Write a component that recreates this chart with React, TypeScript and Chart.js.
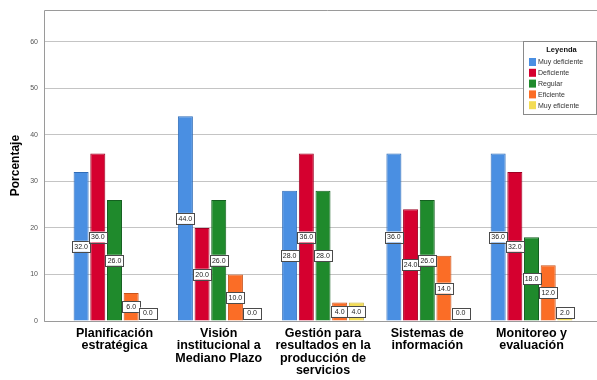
import React, { useEffect, useRef } from "react";
import { Chart, registerables, CategoryScale } from "chart.js";

Chart.register(...registerables);

// Category axis that leaves extra room before the first and after the last category
class PaddedCategoryScale extends CategoryScale {
  static id = "paddedCategory";
  static defaults = CategoryScale.defaults;
  buildTicks() {
    const ticks = super.buildTicks();
    const pad = (this.options as any).edgePad ?? 0;
    (this as any)._startValue -= pad;
    (this as any)._valueRange += 2 * pad;
    return ticks;
  }
}
Chart.register(PaddedCategoryScale as any);

const categories: string[][] = [
  ["Planificación", "estratégica"],
  ["Visión", "institucional a", "Mediano Plazo"],
  ["Gestión para", "resultados en la", "producción de", "servicios"],
  ["Sistemas de", "información"],
  ["Monitoreo y", "evaluación"],
];

const seriesNames = ["Muy deficiente", "Deficiente", "Regular", "Eficiente", "Muy eficiente"];

const muyDeficiente = [32.0, 44.0, 28.0, 36.0, 36.0];
const deficiente = [36.0, 20.0, 36.0, 24.0, 32.0];
const regular = [26.0, 26.0, 28.0, 26.0, 18.0];
const eficiente = [6.0, 10.0, 4.0, 14.0, 12.0];
const muyEficiente = [0.0, 0.0, 4.0, 0.0, 2.0];

const yTicks = [0, 10, 20, 30, 40, 50, 60];

const fillColors = ["#4a8fe2", "#d5002f", "#1f8a2c", "#fb6d26", "#f3dc55"];
const edgeColors = ["#2f6cb8", "#9e0022", "#146020", "#c9531b", "#c9b33a"];

const FONT = "'Liberation Sans', Arial, sans-serif";

// White boxed value labels in the middle of each bar
const valueLabels = {
  id: "valueLabels",
  afterDatasetsDraw(chart: any) {
    const ctx = chart.ctx;
    ctx.save();
    ctx.font = `7px ${FONT}`;
    ctx.textAlign = "center";
    ctx.textBaseline = "middle";
    chart.data.datasets.forEach((ds: any, di: number) => {
      const meta = chart.getDatasetMeta(di);
      meta.data.forEach((bar: any, i: number) => {
        const v = ds.data[i];
        const mid = Math.min((bar.y + bar.base) / 2, bar.base - 8);
        const w = 18;
        const h = 11;
        ctx.fillStyle = "#ffffff";
        ctx.fillRect(bar.x - w / 2, mid - h / 2, w, h);
        ctx.strokeStyle = "#4a4a4a";
        ctx.lineWidth = 1;
        ctx.strokeRect(Math.round(bar.x - w / 2) + 0.5, Math.round(mid - h / 2) + 0.5, w, h);
        ctx.fillStyle = "#222";
        ctx.fillText(v.toFixed(1), bar.x, mid + 0.5);
      });
    });
    ctx.restore();
  },
};

// Top, left and bottom edges of the plot frame
const frame = {
  id: "frame",
  afterDraw(chart: any) {
    const { left, top, right, bottom } = chart.chartArea;
    const ctx = chart.ctx;
    const l = Math.round(left) + 0.5;
    const t = Math.round(top) + 0.5;
    const b = Math.round(bottom) + 0.5;
    const r = Math.round(right) + 20;
    ctx.save();
    ctx.strokeStyle = "#9a9a9a";
    ctx.lineWidth = 1;
    ctx.beginPath();
    ctx.moveTo(r, t);
    ctx.lineTo(l, t);
    ctx.lineTo(l, b);
    ctx.lineTo(r, b);
    ctx.stroke();
    ctx.restore();
  },
};

// Legend box inside the plot, top right
const insetLegend = {
  id: "insetLegend",
  afterDraw(chart: any) {
    const ctx = chart.ctx;
    const { top, right } = chart.chartArea;
    const w = 73;
    const h = 73;
    const x = Math.round(right - 79);
    const y = Math.round(top + 31);
    ctx.save();
    ctx.fillStyle = "#ffffff";
    ctx.fillRect(x, y, w, h);
    ctx.strokeStyle = "#8a8a8a";
    ctx.lineWidth = 1;
    ctx.strokeRect(x + 0.5, y + 0.5, w, h);
    ctx.fillStyle = "#111";
    ctx.font = `bold 7.5px ${FONT}`;
    ctx.textAlign = "center";
    ctx.textBaseline = "middle";
    ctx.fillText("Leyenda", x + w / 2 + 2, y + 9);
    ctx.font = `7px ${FONT}`;
    ctx.textAlign = "left";
    seriesNames.forEach((name, i) => {
      const cy = y + 21 + i * 10.8;
      ctx.fillStyle = fillColors[i];
      ctx.fillRect(x + 6, cy - 4, 7, 8);
      ctx.fillStyle = "#333";
      ctx.fillText(name, x + 15, cy + 0.5);
    });
    ctx.restore();
  },
};

export default function App() {
  const canvasRef = useRef<HTMLCanvasElement | null>(null);

  useEffect(() => {
    if (!canvasRef.current) return;
    const series = [muyDeficiente, deficiente, regular, eficiente, muyEficiente];
    const chart = new Chart(canvasRef.current, {
      type: "bar",
      data: {
        labels: categories as any,
        datasets: series.map((data, i) => ({
          label: seriesNames[i],
          data,
          backgroundColor: fillColors[i],
          borderColor: edgeColors[i],
          borderWidth: 1,
          categoryPercentage: 0.8,
          barPercentage: 0.9,
        })),
      },
      options: {
        animation: false,
        responsive: false,
        layout: { padding: { top: 7, right: 8, left: 0, bottom: 0 } },
        plugins: {
          legend: { display: false },
          tooltip: { enabled: false },
        },
        scales: {
          x: {
            type: "paddedCategory" as any,
            edgePad: 0.176,
            grid: { display: false, drawTicks: false },
            border: { display: false },
            ticks: {
              padding: 6,
              color: "#000",
              maxRotation: 0,
              autoSkip: false,
              font: { family: FONT, size: 12.5, weight: "bold", lineHeight: 1.0 },
            },
            afterFit(scale: any) {
              scale.height = 59;
            },
          } as any,
          y: {
            min: 0,
            max: 66.8,
            grid: { color: "#c4c4c4", lineWidth: 1, drawTicks: false },
            border: { display: false },
            ticks: {
              stepSize: 10,
              includeBounds: false,
              padding: 6,
              color: "#555",
              font: { family: FONT, size: 7 },
              callback: (v: any) => (yTicks.includes(Number(v)) ? String(v) : ""),
            },
            title: {
              display: true,
              text: "Porcentaje",
              color: "#000",
              font: { family: FONT, size: 12, weight: "bold" },
              padding: { top: 8, bottom: 0 },
            },
            afterFit(scale: any) {
              scale.width = 44;
            },
          } as any,
        },
      },
      plugins: [frame, valueLabels, insetLegend],
    });
    return () => chart.destroy();
  }, []);

  return (
    <div
      style={{
        position: "absolute",
        left: 0,
        top: 0,
        width: 597,
        height: 380,
        overflow: "hidden",
        background: "#fff",
      }}
    >
      <canvas ref={canvasRef} width={610} height={380} style={{ width: 610, height: 380 }} />
    </div>
  );
}
